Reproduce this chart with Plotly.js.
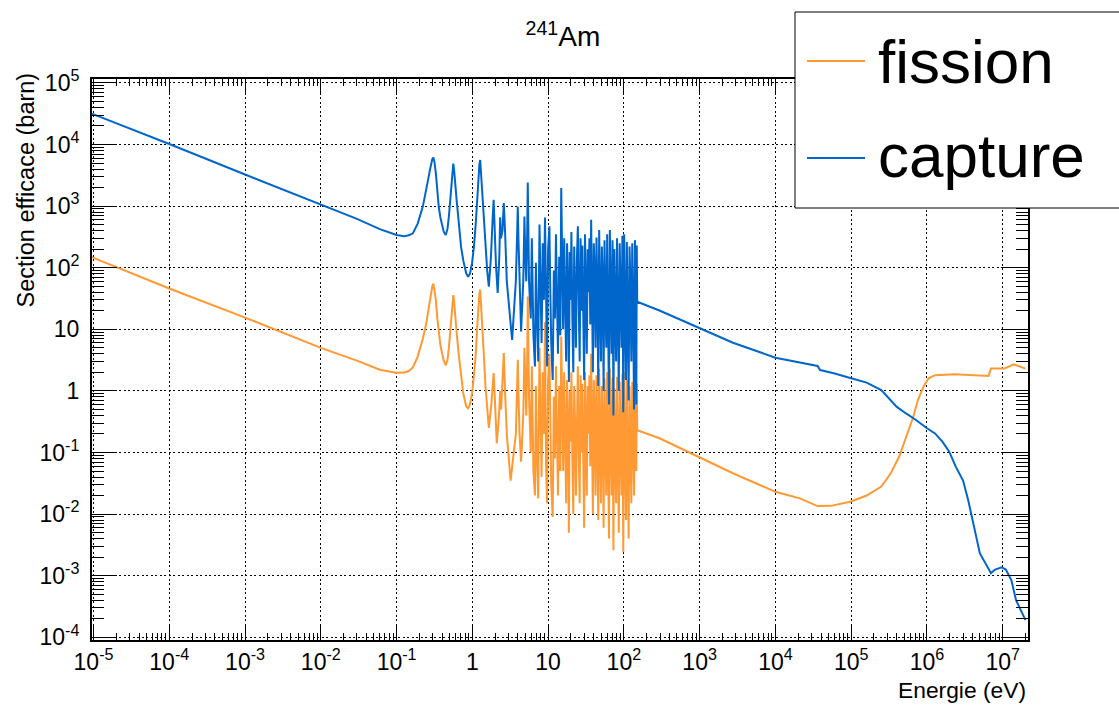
<!DOCTYPE html>
<html>
<head>
<meta charset="utf-8">
<script src="https://cdn.plot.ly/plotly-3.0.1.min.js"></script>
<style>html,body{margin:0;padding:0;background:#fff;}#chart{width:1119px;height:705px;}</style>
</head>
<body>
<div id="chart"></div>
<script>
// ---- Data ----
const captureE = [
  9e-6, 1e-4, 1e-3, 1e-2, 0.03, 0.06, 0.08, 0.1, 0.126, 0.145, 0.164, 0.19, 0.222, 0.245, 0.26, 0.275, 0.286, 0.296,
  0.306, 0.316, 0.33, 0.345, 0.36, 0.38, 0.40, 0.42, 0.446, 0.47, 0.49, 0.51, 0.53, 0.545, 0.56, 0.575, 0.59,
  0.62, 0.66, 0.71, 0.76, 0.83, 0.88, 0.93, 0.99, 1.05, 1.11, 1.16, 1.2, 1.24, 1.27, 1.3, 1.35, 1.42, 1.49,
  1.57, 1.65, 1.76, 1.85, 1.91, 1.97, 2.05, 2.16, 2.27, 2.33, 2.39, 2.5, 2.6, 2.7, 2.85, 3.35, 3.75, 3.9, 3.98,
  4.06, 4.2, 4.4, 4.7, 4.87, 5.0, 5.15, 5.3, 5.39,
  5.6, 5.9, 6.1, 6.4, 6.7, 6.9, 7.1, 7.4, 7.7, 8.0, 8.2, 8.5, 8.8, 9.1, 9.4, 9.7, 10.0, 10.4, 10.7, 11.0,
  11.5, 11.9, 12.3, 12.7, 13.1, 13.5, 14.0, 14.5, 14.9, 15.3, 15.8, 16.3, 16.8, 17.3, 17.8, 18.3, 18.8, 19.3,
  19.8, 20.3, 20.9, 21.5, 22.1, 22.7, 23.3, 24.0, 24.7, 25.4, 26.1, 26.8, 27.5, 28.3, 29.1, 29.9, 30.7, 31.5,
  32.4, 33.3, 34.2, 35.1, 36.0, 37.0, 38.0, 39.0, 40.1, 41.2, 42.3, 43.5, 44.7, 45.9, 47.2, 48.5, 49.8, 51.2,
  52.6, 54.0, 55.5, 57.0, 58.6, 60.2, 61.9, 63.6, 65.3, 67.1, 69.0, 70.9, 72.8, 74.8, 76.9, 79.0, 81.2, 83.4,
  85.7, 88.1, 90.5, 93.0, 95.6, 98.2, 100.9, 103.7, 106.6, 109.5, 112.5, 115.6, 118.8, 122.1, 125.5, 129.0,
  132.6, 136.3, 140.1, 144.0, 146, 148, 150,
  300, 1e3, 2.75e3, 1e4, 2.1e4, 3.6e4, 3.9e4, 5.9e4, 1e5, 1.6e5, 2.5e5, 3.1e5, 4e5, 5.3e5, 7.1e5, 1e6,
  1.28e6, 1.6e6, 1.97e6, 2.4e6, 3e6, 3.5e6, 4.2e6, 5e6, 6.5e6, 7e6, 7.8e6, 9.7e6, 1.1e7, 1.3e7, 1.5e7, 2e7
];
const captureXS = [
  32500, 10200, 3250, 1050, 620, 423, 370, 340, 325, 335, 361, 520, 980, 1700, 2640, 3800, 4920, 5800,
  6160, 5200, 3400, 1800, 980, 640, 466, 380, 340, 430, 675, 1150, 2340, 3600, 4900, 3800, 2400,
  1260, 560, 217, 130, 81, 71, 80, 117, 220, 527, 1400, 3000, 4800, 5600, 3600, 1420, 500, 196,
  90, 49, 150, 600, 1260, 450, 110, 39, 150, 660, 300, 400, 1120, 400, 60, 6.7, 60, 350, 980,
  300, 50, 9.2, 60, 675, 150, 60, 400, 2420,
  60, 15, 300, 8, 2.5, 120, 20, 3, 500, 40, 6, 250, 30, 650, 12, 2.5, 200, 470, 40, 6,
  1.5, 90, 15, 350, 30, 4, 150, 8, 1960, 60, 10, 300, 20, 3, 250, 40, 1.4, 180,
  30, 380, 15, 2, 220, 50, 5, 140, 470, 25, 3, 300, 20, 230, 8, 1.5, 350, 60,
  4, 200, 40, 300, 12, 600, 30, 2, 250, 80, 5, 310, 40, 1.2, 410, 25, 3, 220,
  60, 1.0, 280, 30, 5, 350, 20, 0.6, 410, 50, 4, 280, 0.4, 200, 30, 3, 300, 15,
  1.0, 250, 60, 5, 330, 0.45, 350, 40, 1.5, 260, 30, 0.7, 220, 50, 3, 250,
  20, 0.5, 280, 40, 0.6, 230, 28,
  20, 10.4, 6.05, 3.46, 2.87, 2.54, 2.18, 1.93, 1.6, 1.36, 1.03, 0.76, 0.55, 0.43, 0.34, 0.247,
  0.204, 0.15, 0.103, 0.059, 0.035, 0.017, 0.0063, 0.0023, 0.0013, 0.0011, 0.00124, 0.00137, 0.00126, 0.00085, 0.0004, 0.00019
];
const fissionE = [
  9e-6, 1e-4, 1e-3, 1e-2, 0.03, 0.06, 0.098, 0.126, 0.145, 0.164, 0.19, 0.222, 0.245, 0.26, 0.275, 0.286, 0.296,
  0.306, 0.316, 0.33, 0.345, 0.36, 0.38, 0.40, 0.42, 0.446, 0.47, 0.49, 0.51, 0.53, 0.545, 0.56, 0.575, 0.59,
  0.62, 0.66, 0.71, 0.76, 0.83, 0.88, 0.93, 0.99, 1.05, 1.11, 1.16, 1.2, 1.24, 1.27, 1.3, 1.35, 1.42, 1.49,
  1.57, 1.65, 1.78, 1.86, 1.91, 1.97, 2.04, 2.1, 2.25, 2.33, 2.4, 2.5, 2.6, 2.7, 2.85, 3.2, 3.75, 3.9, 3.98,
  4.06, 4.2, 4.4, 4.7, 4.87, 5.0, 5.15, 5.3, 5.39,
  5.6, 5.9, 6.1, 6.4, 6.7, 6.9, 7.1, 7.4, 7.7, 8.0, 8.2, 8.5, 8.8, 9.1, 9.4, 9.7, 10.0, 10.4, 10.7, 11.0,
  11.5, 11.9, 12.3, 12.7, 13.1, 13.5, 14.0, 14.5, 14.9, 15.3, 15.8, 16.3, 16.8, 17.3, 17.8, 18.3, 18.8, 19.3,
  19.8, 20.3, 20.9, 21.5, 22.1, 22.7, 23.3, 24.0, 24.7, 25.4, 26.1, 26.8, 27.5, 28.3, 29.1, 29.9, 30.7, 31.5,
  32.4, 33.3, 34.2, 35.1, 36.0, 37.0, 38.0, 39.0, 40.1, 41.2, 42.3, 43.5, 44.7, 45.9, 47.2, 48.5, 49.8, 51.2,
  52.6, 54.0, 55.5, 57.0, 58.6, 60.2, 61.9, 63.6, 65.3, 67.1, 69.0, 70.9, 72.8, 74.8, 76.9, 79.0, 81.2, 83.4,
  85.7, 88.1, 90.5, 93.0, 95.6, 98.2, 100.9, 103.7, 106.6, 109.5, 112.5, 115.6, 118.8, 122.1, 125.5, 129.0,
  132.6, 136.3, 140.1, 144.0, 146, 148, 150,
  295, 1e3, 2.75e3, 1e4, 2.1e4, 3.6e4, 5.4e4, 1e5, 1.6e5, 2.5e5, 3.3e5, 4.3e5, 5.3e5, 6.6e5, 7.6e5, 9e5,
  1.05e6, 1.28e6, 2.3e6, 4.6e6, 6.5e6, 7e6, 1.05e7, 1.4e7, 2e7
];
const fissionXS = [
  152, 46, 15.5, 5.0, 3.1, 2.2, 1.97, 1.98, 2.1, 2.4, 3.6, 7, 12, 20, 29, 40, 50,
  55, 45, 30, 15, 8.5, 5.4, 4, 3.1, 2.6, 3.2, 5, 8.5, 17, 27, 36, 28, 17,
  9, 4, 1.6, 0.9, 0.56, 0.52, 0.6, 0.9, 1.8, 4, 11, 25, 38, 44, 28, 11, 3.8, 1.2,
  0.5, 0.25, 0.6, 1.5, 1.95, 0.9, 0.3, 0.14, 0.4, 1.0, 0.5, 1.2, 4.1, 1.0, 0.2, 0.035, 0.2, 1.2, 3.2,
  0.9, 0.2, 0.071, 0.4, 5, 1.2, 0.4, 3, 34,
  0.8, 0.1, 2.5, 0.05, 0.02, 1.2, 0.1, 0.018, 5, 0.3, 0.04, 2, 0.2, 13, 0.06, 0.015, 1.5, 4, 0.2, 0.03,
  0.009, 0.8, 0.08, 2.5, 0.2, 0.02, 1.2, 0.05, 7.6, 0.4, 0.05, 2, 0.1, 0.015, 1.5, 0.2, 0.005, 1,
  0.15, 2, 0.08, 0.01, 1.2, 0.3, 0.02, 0.8, 2.5, 0.1, 0.015, 1.8, 0.1, 1.3, 0.04, 0.006, 2, 0.3,
  0.02, 1.2, 0.2, 1.8, 0.06, 4, 0.15, 0.01, 1.5, 0.4, 0.02, 1.8, 0.2, 0.008, 2.3, 0.12, 0.015, 1.2,
  0.3, 0.006, 1.6, 0.15, 0.02, 2, 0.1, 0.004, 2.3, 0.25, 0.02, 1.6, 0.0026, 1.1, 0.15, 0.015, 1.7, 0.08,
  0.005, 1.4, 0.3, 0.02, 1.9, 0.0024, 2, 0.2, 0.008, 1.5, 0.15, 0.004, 1.2, 0.25, 0.015, 1.4,
  0.1, 0.02, 1.6, 0.2, 0.05, 1.3, 0.23,
  0.17, 0.083, 0.046, 0.023, 0.018, 0.0135, 0.0136, 0.016, 0.02, 0.028, 0.045, 0.085, 0.18, 0.38, 0.71, 1.17,
  1.6, 1.8, 1.86, 1.8, 1.75, 2.3, 2.3, 2.7, 2.3
];
const xTickVals = [1e-5, 1e-4, 1e-3, 1e-2, 1e-1, 1, 10, 1e2, 1e3, 1e4, 1e5, 1e6, 1e7];
const xTickText = ['10<sup>-5</sup>', '10<sup>-4</sup>', '10<sup>-3</sup>', '10<sup>-2</sup>', '10<sup>-1</sup>', '1', '10',
  '10<sup>2</sup>', '10<sup>3</sup>', '10<sup>4</sup>', '10<sup>5</sup>', '10<sup>6</sup>', '10<sup>7</sup>'];
const yTickVals = [1e-4, 1e-3, 1e-2, 1e-1, 1, 10, 1e2, 1e3, 1e4, 1e5];
const yTickText = ['10<sup>-4</sup>', '10<sup>-3</sup>', '10<sup>-2</sup>', '10<sup>-1</sup>', '1', '10',
  '10<sup>2</sup>', '10<sup>3</sup>', '10<sup>4</sup>', '10<sup>5</sup>'];
const seriesNames = ['fission', 'capture'];
const chartTitle = '<sup>241</sup>Am';
const xTitle = 'Energie (eV)';
const yTitle = 'Section efficace (barn)';

// ---- Styling ----
const FONT = 'Liberation Sans, Arial, Helvetica, sans-serif';
const ORANGE = '#ff9933';
const BLUE = '#0066cc';
const W = 1119, H = 705, ML = 92, MR = 91, MT = 79, MB = 65;
const PW = W - ML - MR, PH = H - MT - MB;
const px = (x) => (x - ML) / PW;          // page x pixel -> paper x
const py = (y) => (H - MB - y) / PH;      // page y pixel -> paper y

function minorVals(lo, hi) {
  const v = [];
  for (let e = lo; e <= hi; e++) for (let d = 2; d <= 9; d++) v.push(d * Math.pow(10, e));
  return v;
}

const traces = [
  {x: fissionE, y: fissionXS, name: seriesNames[0], type: 'scatter', mode: 'lines',
   line: {color: ORANGE, width: 2}, hoverinfo: 'skip', showlegend: false},
  {x: captureE, y: captureXS, name: seriesNames[1], type: 'scatter', mode: 'lines',
   line: {color: BLUE, width: 2}, hoverinfo: 'skip', showlegend: false}
];

function axisBase() {
  return {
    type: 'log', showline: true, linecolor: 'black', linewidth: 2, mirror: 'allticks',
    ticks: 'inside', tickcolor: 'black', tickwidth: 1,
    showgrid: true, gridcolor: 'black', griddash: '2px,2.5px', gridwidth: 1, zeroline: false,
    tickmode: 'array', tickfont: {family: FONT, size: 23, color: 'black'}
  };
}
const xaxis = Object.assign(axisBase(), {
  range: [-5.02, 7.334], tickvals: xTickVals, ticktext: xTickText, ticklen: 15,
  minor: {tickmode: 'array', tickvals: minorVals(-6, 7), ticks: 'inside', ticklen: 7,
          tickcolor: 'black', tickwidth: 1, showgrid: false}
});
const yaxis = Object.assign(axisBase(), {
  range: [-4.044, 5.063], tickvals: yTickVals, ticktext: yTickText, ticklen: 25,
  ticklabelstandoff: 6,
  minor: {tickmode: 'array', tickvals: minorVals(-5, 5), ticks: 'inside', ticklen: 12,
          tickcolor: 'black', tickwidth: 1, showgrid: false}
});

const LEG = {left: 795, right: 1130, top: 12, bottom: 208, lineX0: 807, lineX1: 865, textX: 876,
             rows: [61, 158], textRows: [61.5, 156]};
const legendShapes = [
  {type: 'rect', xref: 'paper', yref: 'paper', x0: px(LEG.left), x1: px(LEG.right), y0: py(LEG.bottom), y1: py(LEG.top),
   line: {color: 'black', width: 1}, fillcolor: 'white', layer: 'above'},
  {type: 'line', xref: 'paper', yref: 'paper', x0: px(LEG.lineX0), x1: px(LEG.lineX1), y0: py(LEG.rows[0]), y1: py(LEG.rows[0]),
   line: {color: ORANGE, width: 2}, layer: 'above'},
  {type: 'line', xref: 'paper', yref: 'paper', x0: px(LEG.lineX0), x1: px(LEG.lineX1), y0: py(LEG.rows[1]), y1: py(LEG.rows[1]),
   line: {color: BLUE, width: 2}, layer: 'above'}
];

const layout = {
  width: W, height: H,
  margin: {l: ML, r: MR, t: MT, b: MB, autoexpand: false},
  paper_bgcolor: 'white', plot_bgcolor: 'white',
  font: {family: FONT, color: 'black'},
  title: {text: chartTitle, font: {family: FONT, size: 28, color: 'black'},
          x: 0.503, xanchor: 'center', y: 0.948, yanchor: 'middle', yref: 'container'},
  xaxis: xaxis, yaxis: yaxis,
  showlegend: false,
  shapes: legendShapes,
  annotations: [
    {text: xTitle, xref: 'paper', yref: 'paper', x: 1.0, y: py(690), xanchor: 'right', yanchor: 'middle',
     showarrow: false, font: {family: FONT, size: 22.8, color: 'black'}},
    {text: yTitle, xref: 'paper', yref: 'paper', x: px(25), y: py(190.5), xanchor: 'center', yanchor: 'middle',
     textangle: -90, showarrow: false, font: {family: FONT, size: 23.5, color: 'black'}},
    {text: seriesNames[0], xref: 'paper', yref: 'paper', x: px(LEG.textX), y: py(LEG.textRows[0]),
     xanchor: 'left', yanchor: 'middle', showarrow: false, font: {family: FONT, size: 62, color: 'black'}},
    {text: seriesNames[1], xref: 'paper', yref: 'paper', x: px(LEG.textX), y: py(LEG.textRows[1]),
     xanchor: 'left', yanchor: 'middle', showarrow: false, font: {family: FONT, size: 62, color: 'black'}}
  ]
};

Plotly.newPlot('chart', traces, layout, {staticPlot: true, displayModeBar: false});
</script>
</body>
</html>
